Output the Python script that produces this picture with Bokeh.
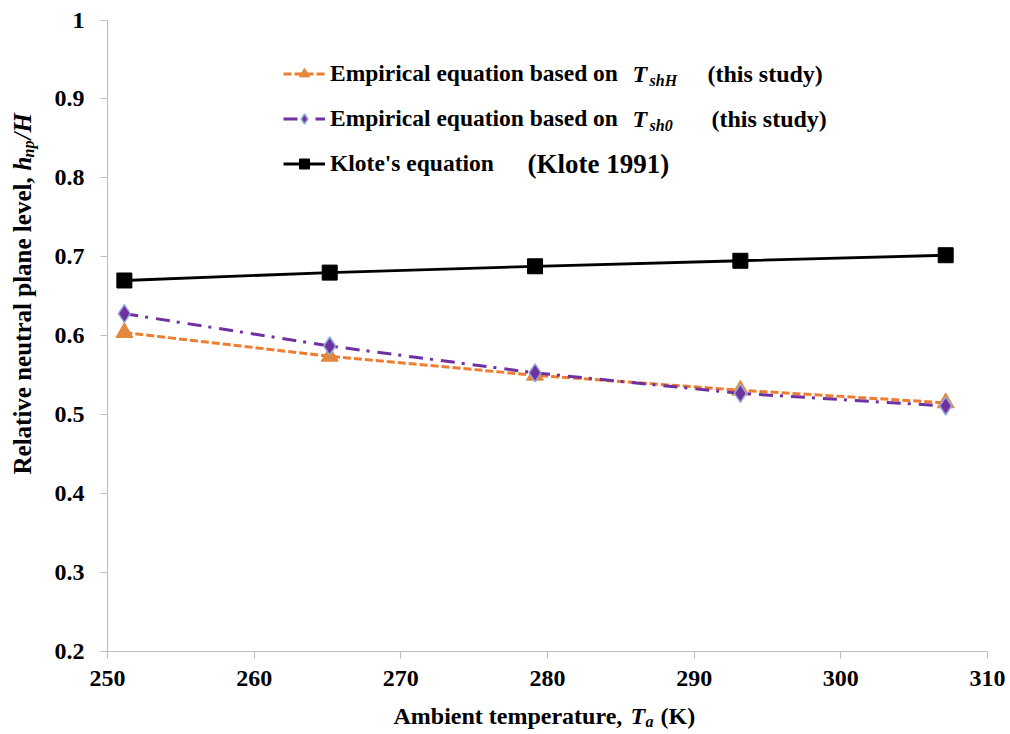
import math

from bokeh.plotting import figure
from bokeh.models import Range1d, FixedTicker, Legend, LegendItem, Label, LinearAxis, Grid
from bokeh.embed import file_html
from bokeh.resources import INLINE

# Ambient temperature (K) and relative neutral plane level h_np/H
ambient_T = [251.15, 265.15, 279.15, 293.15, 307.15]
np_shH = [0.604, 0.574, 0.550, 0.531, 0.515]
np_sh0 = [0.628, 0.587, 0.553, 0.527, 0.511]
np_klote = [0.670, 0.680, 0.688, 0.695, 0.702]

x_ticks = [250, 260, 270, 280, 290, 300, 310]
y_ticks = [0.2, 0.3, 0.4, 0.5, 0.6, 0.7, 0.8, 0.9, 1.0]
y_tick_labels = ["0.2", "0.3", "0.4", "0.5", "0.6", "0.7", "0.8", "0.9", "1"]

legend_labels = ["Empirical equation based on", "Empirical equation based on", "Klote's equation"]

FONT = "Liberation Serif"
AXIS_GREY = "#BFBFBF"
ORANGE = "#ED7D31"
ORANGE_FILL = "#E3883C"
PURPLE = "#7030A0"
DIAMOND_EDGE = "#8FAADC"

# Canvas size and where the axes box sits on it (pixels from top-left)
W, H = 1010, 734
BOX_L, BOX_R, BOX_T, BOX_B = 107, 987, 19.5, 651

# The frame fills the canvas, so the ranges run past the axes to leave room
# for tick labels and titles; the axes themselves are pinned at 250 K / 0.2.
x0, x1 = x_ticks[0], x_ticks[-1]
y0, y1 = y_ticks[0], y_ticks[-1]
kx = (BOX_R - BOX_L) / (x1 - x0)
ky = (BOX_B - BOX_T) / (y1 - y0)
x_range = Range1d(x0 - BOX_L / kx, x1 + (W - BOX_R) / kx)
y_range = Range1d(y0 - (H - BOX_B) / ky, y1 + BOX_T / ky)

p = figure(
    width=W, height=H, x_range=x_range, y_range=y_range,
    x_axis_location=None, y_axis_location=None,
    output_backend="svg", toolbar_location=None, min_border=0,
)
p.outline_line_color = None
p.background_fill_color = "white"
p.border_fill_color = "white"

xaxis = LinearAxis(fixed_location=y0, bounds=(x0, x1), ticker=FixedTicker(ticks=x_ticks))
yaxis = LinearAxis(fixed_location=x0, bounds=(y0, y1), ticker=FixedTicker(ticks=y_ticks))
yaxis.major_label_overrides = {t: s for t, s in zip(y_ticks, y_tick_labels)}
xaxis.major_label_standoff = 12
yaxis.major_label_standoff = 16

for ax in (xaxis, yaxis):
    ax.axis_line_color = AXIS_GREY
    ax.axis_line_width = 1.2
    ax.major_tick_line_color = AXIS_GREY
    ax.major_tick_line_width = 1.2
    ax.major_tick_in = 0
    ax.major_tick_out = 7
    ax.minor_tick_line_color = None
    ax.major_label_text_font = FONT
    ax.major_label_text_font_style = "bold"
    ax.major_label_text_font_size = "24px"
    ax.major_label_text_color = "black"

p.add_layout(xaxis, "below")
p.add_layout(yaxis, "left")

# No gridlines
for g in p.select(type=Grid):
    g.visible = False

# Series
r_shH_line = p.line(ambient_T, np_shH, line_color=ORANGE, line_width=3, line_dash="8 3")
r_shH_pts = p.scatter(ambient_T, np_shH, marker="triangle", size=17,
                      fill_color=ORANGE_FILL, line_color=ORANGE_FILL)

r_sh0_line = p.line(ambient_T, np_sh0, line_color=PURPLE, line_width=3, line_dash="14 7 3 8")
r_sh0_pts = p.scatter(ambient_T, np_sh0, marker="diamond", size=18,
                      fill_color=PURPLE, line_color=DIAMOND_EDGE, line_width=1.5)

r_kl_line = p.line(ambient_T, np_klote, line_color="black", line_width=2.8)
r_kl_pts = p.scatter(ambient_T, np_klote, marker="square", size=15,
                     fill_color="black", line_color="black")

legend = Legend(
    items=[
        LegendItem(label=legend_labels[0], renderers=[r_shH_line, r_shH_pts]),
        LegendItem(label=legend_labels[1], renderers=[r_sh0_line, r_sh0_pts]),
        LegendItem(label=legend_labels[2], renderers=[r_kl_line, r_kl_pts]),
    ],
    location=(283, H - 186),
    orientation="vertical",
    glyph_width=42, glyph_height=25,
    label_height=45, label_standoff=5,
    spacing=0, padding=0, margin=0,
    border_line_color=None, background_fill_alpha=0,
    label_text_font=FONT, label_text_font_style="bold",
    label_text_font_size="23.5px", label_text_color="black",
)
p.add_layout(legend)


def piece(text, cx, cy, size, style, angle=0.0):
    """Place a run of text at canvas pixel (cx, cy), measured from top-left."""
    p.add_layout(Label(
        x=cx, y=H - cy, x_units="screen", y_units="screen",
        text=text, text_font=FONT, text_font_size=f"{size}px",
        text_font_style=style, text_color="black",
        text_align="left", text_baseline="middle", angle=angle,
    ))


# Legend suffixes with italic subscripted symbols
for row_y, sub, tail_x in ((73.5, "shH", 707), (118.5, "sh0", 711)):
    piece("T", 632, row_y, 24, "bold italic")
    piece(sub, 649, row_y + 6, 16, "bold italic")
    piece("(this study)", tail_x, row_y, 24, "bold")
piece("(Klote 1991)", 527, 163.5, 27, "bold")

# X axis title
piece("Ambient temperature,", 393, 715, 24, "bold")
piece("T", 630, 715, 24, "bold italic")
piece("a", 645, 721, 16, "bold italic")
piece("(K)", 660, 715, 24, "bold")

# Y axis title (rotated, reads bottom to top)
up = math.pi / 2
piece("Relative neutral plane level,", 22, 474, 25, "bold", up)
piece("h", 22, 170, 25, "bold italic", up)
piece("np", 28, 157, 16, "bold italic", up)
piece("/H", 22, 139, 25, "bold italic", up)

open("out.html", "w").write(file_html(p, INLINE))
